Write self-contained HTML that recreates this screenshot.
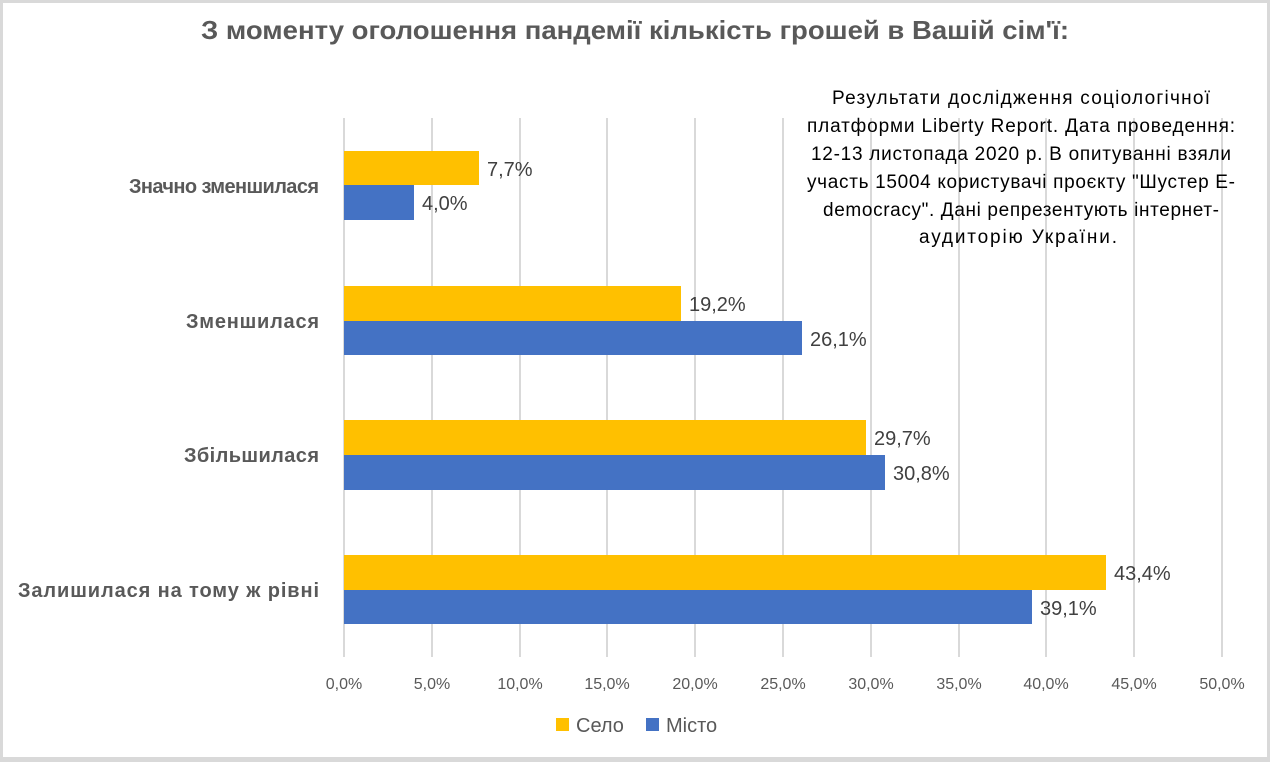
<!DOCTYPE html><html><head><meta charset="utf-8"><style>body{margin:0;background:#fff}svg{display:block}text{font-family:"Liberation Sans",sans-serif}</style></head><body>
<svg width="1270" height="762" xmlns="http://www.w3.org/2000/svg">
<rect x="0" y="0" width="1270" height="762" fill="#d9d9d9"/>
<rect x="3" y="3" width="1264" height="754" fill="#fff"/>
<text x="635" y="39" text-anchor="middle" font-size="26" font-weight="bold" fill="#595959" textLength="868" lengthAdjust="spacingAndGlyphs">З моменту оголошення пандемії кількість грошей в Вашій сім'ї:</text>
<g stroke="#d9d9d9" stroke-width="2">
<line x1="344" y1="118" x2="344" y2="657"/><line x1="432" y1="118" x2="432" y2="657"/><line x1="520" y1="118" x2="520" y2="657"/><line x1="607" y1="118" x2="607" y2="657"/><line x1="695" y1="118" x2="695" y2="657"/><line x1="783" y1="118" x2="783" y2="657"/><line x1="871" y1="118" x2="871" y2="657"/><line x1="959" y1="118" x2="959" y2="657"/><line x1="1046" y1="118" x2="1046" y2="657"/><line x1="1134" y1="118" x2="1134" y2="657"/><line x1="1222" y1="118" x2="1222" y2="657"/>
</g>
<g font-size="19" fill="#000" text-anchor="middle" lengthAdjust="spacingAndGlyphs">
<text x="1021" y="104" textLength="378">Результати дослідження соціологічної</text>
<text x="1021" y="132" textLength="428">платформи Liberty Report. Дата проведення:</text>
<text x="1021" y="160" textLength="420">12-13 листопада 2020 р. В опитуванні взяли</text>
<text x="1021" y="188" textLength="428">участь 15004 користувачі проєкту "Шустер E-</text>
<text x="1021" y="216" textLength="396">democracy". Дані репрезентують інтернет-</text>
<text x="1018" y="243" textLength="198">аудиторію України.</text>
</g>
<g fill="#ffc000"><rect x="344" y="151" width="135" height="34"/><rect x="344" y="286" width="337" height="35"/><rect x="344" y="420" width="522" height="35"/><rect x="344" y="555" width="762" height="35"/></g>
<g fill="#4472c4"><rect x="344" y="185" width="70" height="35"/><rect x="344" y="321" width="458" height="34"/><rect x="344" y="455" width="541" height="35"/><rect x="344" y="590" width="688" height="34"/></g>
<g font-size="20" fill="#404040">
<text x="487" y="176">7,7%</text><text x="422" y="210">4,0%</text>
<text x="689" y="311">19,2%</text><text x="810" y="346">26,1%</text>
<text x="874" y="445">29,7%</text><text x="893" y="480">30,8%</text>
<text x="1114" y="580">43,4%</text><text x="1040" y="615">39,1%</text>
</g>
<g font-size="20" font-weight="bold" fill="#595959" text-anchor="end" lengthAdjust="spacingAndGlyphs">
<text x="319" y="193" textLength="190">Значно зменшилася</text>
<text x="319" y="328" textLength="133">Зменшилася</text>
<text x="319" y="462" textLength="135">Збільшилася</text>
<text x="319" y="597" textLength="301">Залишилася на тому ж рівні</text>
</g>
<g font-size="16" fill="#595959" text-anchor="middle">
<text x="344" y="689">0,0%</text><text x="432" y="689">5,0%</text><text x="520" y="689">10,0%</text><text x="607" y="689">15,0%</text><text x="695" y="689">20,0%</text><text x="783" y="689">25,0%</text><text x="871" y="689">30,0%</text><text x="959" y="689">35,0%</text><text x="1046" y="689">40,0%</text><text x="1134" y="689">45,0%</text><text x="1222" y="689">50,0%</text>
</g>
<rect x="556" y="718" width="13" height="13" fill="#ffc000"/>
<text x="576" y="732" font-size="20" fill="#595959">Село</text>
<rect x="646" y="718" width="13" height="13" fill="#4472c4"/>
<text x="666" y="732" font-size="20" fill="#595959">Місто</text>
</svg></body></html>
